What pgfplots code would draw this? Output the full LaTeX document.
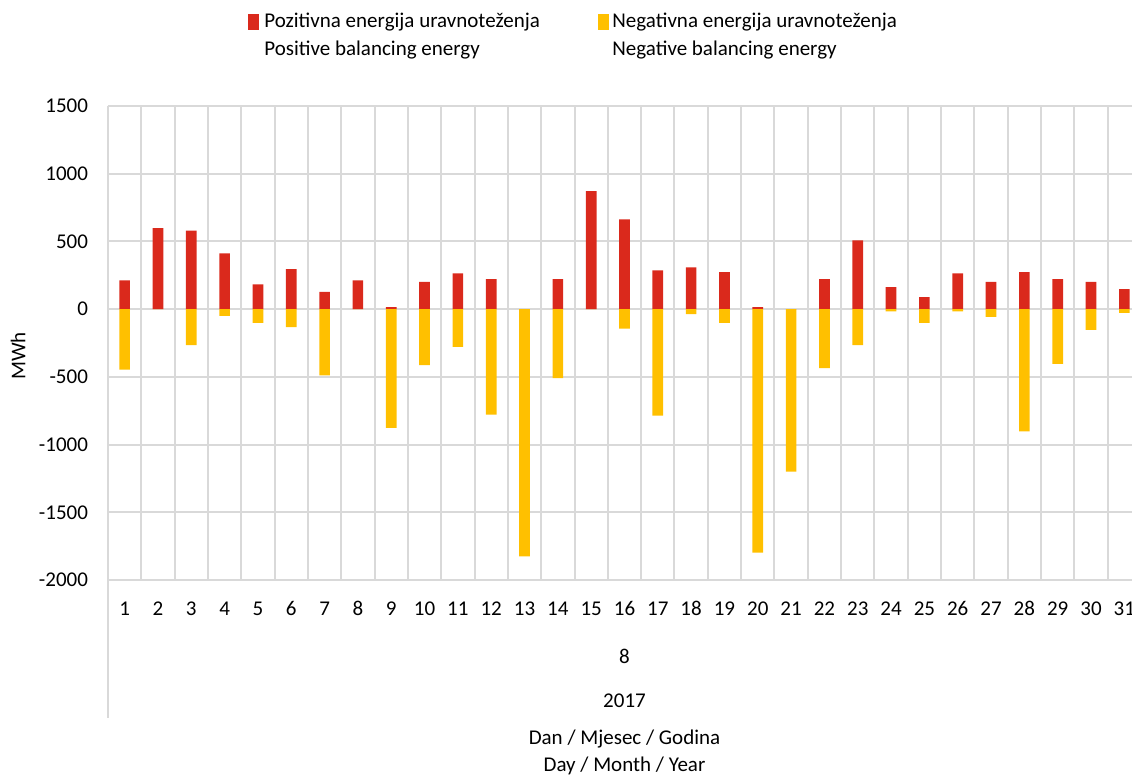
\documentclass[border=0pt]{standalone}
\usepackage{fontspec}
\setmainfont{Carlito}
\usepackage{pgfplots}
\usepackage{pgfplotstable}
\pgfplotsset{compat=1.18}
\definecolor{posred}{HTML}{DA291C}
\definecolor{negyel}{HTML}{FFC000}
\definecolor{gridg}{HTML}{D9D9D9}

\pgfplotstableread{
day pos neg
1 212 -446
2 598 0
3 579 -266
4 411 -49
5 182 -101
6 296 -133
7 128 -490
8 212 0
9 15 -877
10 202 -414
11 264 -278
12 222 -778
13 0 -1825
14 222 -510
15 872 0
16 663 -143
17 286 -786
18 308 -37
19 273 -101
20 15 -1798
21 0 -1200
22 222 -436
23 507 -266
24 163 -17
25 89 -101
26 264 -17
27 202 -57
28 273 -903
29 222 -404
30 202 -153
31 148 -27
}\datatable

\begin{document}
\begin{tikzpicture}[font=\fontsize{10.5pt}{12.6pt}\selectfont]
\useasboundingbox (-54pt,-98pt) rectangle (512pt,290pt);
\begin{axis}[
  name=ax,
  scale only axis, width=516.5pt, height=237pt,
  xmin=0.5, xmax=31.5, ymin=-2000, ymax=1500,
  ytick={-2000,-1500,...,1500},
  xtick={1,...,31},
  minor xtick={0.5,1.5,...,31.5},
  ymajorgrids, xminorgrids,
  major grid style={gridg, line width=1pt},
  minor grid style={gridg, line width=1pt},
  axis line style={draw=none},
  major tick length=0pt, minor tick length=0pt,
  /pgf/number format/assume math mode=true,
  /pgf/number format/1000 sep={},
  xticklabel style={anchor=base, yshift=-18pt},
  yticklabel style={anchor=east, xshift=-6.5pt},
  ybar, bar width=0.32,
]
\addplot[fill=posred, draw=none, bar shift=0pt] table[x=day,y=pos]{\datatable};
\addplot[fill=negyel, draw=none, bar shift=0pt] table[x=day,y=neg]{\datatable};
\end{axis}
\begin{scope}[x=1pt,y=1pt,shift={(-54pt,-98pt)}]
\draw[gridg, line width=1pt] (54,98) -- (54,29);
\node[rotate=90] at (9,210) {MWh};
\node at (312.25,60) {8};
\node at (312.25,37.5) {2017};
\node at (312.25,18.5) {Dan / Mjesec / Godina};
\node at (312.25,5) {Day / Month / Year};
% legend
\fill[posred] (124,373) rectangle (129.5,381);
\node[anchor=base west, inner sep=0pt] at (132,374) {Pozitivna energija uravnoteženja};
\node[anchor=base west, inner sep=0pt] at (132,360) {Positive balancing energy};
\fill[negyel] (299,373) rectangle (304.5,381);
\node[anchor=base west, inner sep=0pt] at (306,374) {Negativna energija uravnoteženja};
\node[anchor=base west, inner sep=0pt] at (306,360) {Negative balancing energy};
\end{scope}
\end{tikzpicture}
\end{document}
